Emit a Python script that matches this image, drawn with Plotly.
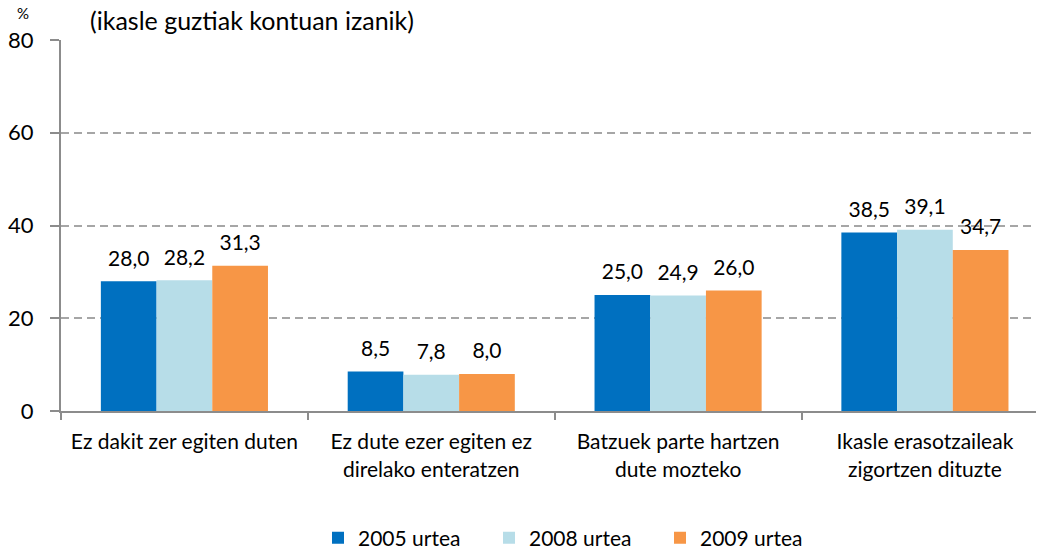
import plotly.graph_objects as go

categories = [
    "Ez dakit zer egiten duten",
    "Ez dute ezer egiten ez<br>direlako enteratzen",
    "Batzuek parte hartzen<br>dute mozteko",
    "Ikasle erasotzaileak<br>zigortzen dituzte",
]
series_names = ["2005 urtea", "2008 urtea", "2009 urtea"]
values_2005 = [28.0, 8.5, 25.0, 38.5]
values_2008 = [28.2, 7.8, 24.9, 39.1]
values_2009 = [31.3, 8.0, 26.0, 34.7]
y_ticks = [0, 20, 40, 60, 80]

colors = ["#0070C0", "#B7DDE8", "#F79646"]
FONT = "Lato"
GAP = 0.323

PLOT_W = 1038 - 61 - 2
PLOT_H = 550 - 40 - 139


def fmt(v):
    return f"{v:.1f}".replace(".", ",")


fig = go.Figure()
all_values = [values_2005, values_2008, values_2009]
for name, vals, col in zip(series_names, all_values, colors):
    fig.add_trace(go.Bar(
        x=categories, y=vals, name=name,
        marker=dict(color=col, line=dict(width=0)),
        offsetgroup=name,
    ))

# value labels, grouped the same way as the bars so each sits over its bar
for name, vals in zip(series_names, all_values):
    fig.add_trace(go.Scatter(
        x=categories, y=vals, mode="markers+text",
        marker=dict(size=15, opacity=0),
        text=[fmt(v) for v in vals], textposition="top center",
        textfont=dict(family=FONT, size=21, color="#000000"),
        offsetgroup=name, showlegend=False, hoverinfo="skip", cliponaxis=False,
    ))

fig.update_layout(
    width=1038, height=550,
    margin=dict(l=61, r=2, t=40, b=139, autoexpand=False),
    paper_bgcolor="white", plot_bgcolor="white",
    font=dict(family=FONT, color="#000000"),
    barmode="group", bargap=GAP, bargroupgap=0,
    scattermode="group", scattergap=GAP,
    showlegend=True,
    legend=dict(orientation="h", x=(318 - 61) / PLOT_W, xanchor="left",
                y=(411 - 538) / PLOT_H, yanchor="middle",
                font=dict(family=FONT, size=21), entrywidth=126, entrywidthmode="pixels",
                traceorder="normal"),
    xaxis=dict(
        range=[-0.5, 3.45],
        showline=True, linecolor="#8C8C8C", linewidth=2,
        ticks="outside", tickson="boundaries", ticklen=7, tickcolor="#8C8C8C", tickwidth=2,
        tickfont=dict(family=FONT, size=21, color="#000000"),
        ticklabelstandoff=11,
        showgrid=False,
    ),
    yaxis=dict(
        range=[0, 80], tickvals=y_ticks, ticktext=[str(t) for t in y_ticks],
        showline=True, linecolor="#8C8C8C", linewidth=2,
        ticks="outside", ticklen=9, tickcolor="#8C8C8C", tickwidth=2,
        tickfont=dict(family=FONT, size=22, color="#000000"),
        ticklabelstandoff=12,
        showgrid=True, gridcolor="#A6A6A6", gridwidth=2, griddash="8px,5px",
        zeroline=False,
    ),
    annotations=[
        dict(text="(ikasle guztiak kontuan izanik)", xref="paper", yref="paper",
             x=(88 - 61) / PLOT_W, y=(411 - 20) / PLOT_H, xanchor="left", yanchor="middle",
             showarrow=False, font=dict(family=FONT, size=25, color="#000000")),
        dict(text="%", xref="paper", yref="paper",
             x=(23 - 61) / PLOT_W, y=(411 - 13) / PLOT_H, xanchor="center", yanchor="middle",
             showarrow=False, font=dict(family=FONT, size=15, color="#000000")),
    ],
)

fig.write_html("out.html")
